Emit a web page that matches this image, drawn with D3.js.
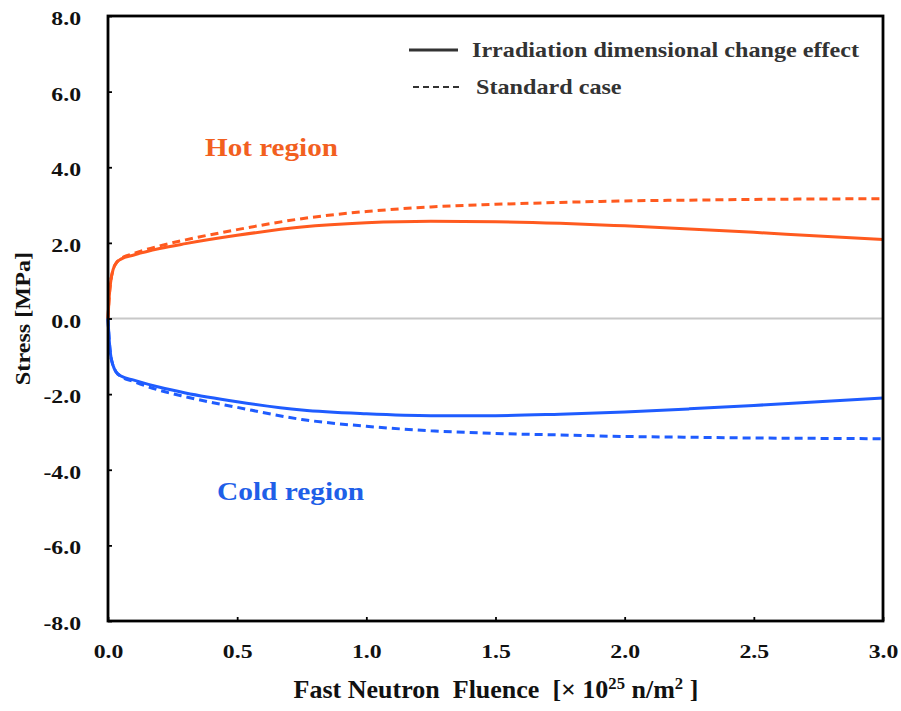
<!DOCTYPE html>
<html>
<head>
<meta charset="utf-8">
<script src="https://cdn.jsdelivr.net/npm/d3@7"></script>
<style>
  body { margin: 0; background: #fff; }
  text { font-family: "Liberation Serif", "Times New Roman", serif; font-weight: bold; white-space: pre; }
</style>
</head>
<body>
<svg id="chart" width="901" height="711"></svg>
<script>
// fluence [x10^25 n/m2]
const fluence = [0, 0.005, 0.01, 0.02, 0.03, 0.05, 0.1, 0.2, 0.3, 0.5, 0.75, 1.0, 1.25, 1.5, 1.75, 2.0, 2.25, 2.5, 2.75, 3.0];
// stress [MPa]
const hotIrr  = [0, 0.6, 0.95, 1.3, 1.45, 1.57, 1.68, 1.85, 1.98, 2.2, 2.42, 2.53, 2.57, 2.56, 2.52, 2.45, 2.37, 2.28, 2.18, 2.09];
const hotStd  = [0, 0.6, 0.95, 1.3, 1.45, 1.58, 1.72, 1.92, 2.08, 2.35, 2.64, 2.83, 2.95, 3.02, 3.07, 3.11, 3.13, 3.15, 3.16, 3.17];
const coldIrr = [0, -0.6, -0.95, -1.25, -1.4, -1.52, -1.63, -1.82, -1.97, -2.2, -2.42, -2.52, -2.57, -2.57, -2.53, -2.47, -2.39, -2.3, -2.2, -2.1];
const coldStd = [0, -0.6, -0.95, -1.25, -1.4, -1.53, -1.67, -1.9, -2.07, -2.35, -2.67, -2.85, -2.97, -3.04, -3.08, -3.12, -3.14, -3.16, -3.17, -3.18];

const xTicks = [0, 0.5, 1.0, 1.5, 2.0, 2.5, 3.0];
const yTicks = [-8, -6, -4, -2, 0, 2, 4, 6, 8];

const hot = "#ff5a1f", cold = "#1f5cff";

const svg = d3.select("#chart");
const mLeft = 108, mRight = 883, mTop = 16, mBottom = 621;

const x = d3.scaleLinear().domain([0, 3]).range([mLeft, mRight]);
const y = d3.scaleLinear().domain([-8, 8]).range([mBottom, mTop]);

// plain hyphen minus like the source
const fmt = d => d.toFixed(1);

// widen glyphs a bit, the source font is broader than Liberation Serif
function stretch(sel, k) {
  sel.each(function() {
    const w = this.getComputedTextLength();
    d3.select(this).attr("textLength", w * k).attr("lengthAdjust", "spacingAndGlyphs");
  });
}

// zero line
svg.append("line")
  .attr("x1", x(0)).attr("x2", x(3))
  .attr("y1", y(0)).attr("y2", y(0))
  .attr("stroke", "#c8c8c8").attr("stroke-width", 2);

// curves
const line = d3.line()
  .x((d, i) => x(fluence[i]))
  .y(d => y(d))
  .curve(d3.curveMonotoneX);

const series = [
  { v: hotStd, c: hot, dash: "8,5" },
  { v: coldStd, c: cold, dash: "8,5" },
  { v: hotIrr, c: hot, dash: null },
  { v: coldIrr, c: cold, dash: null }
];
svg.selectAll("path.curve")
  .data(series)
  .enter()
  .append("path")
  .attr("class", "curve")
  .attr("d", d => line(d.v))
  .attr("fill", "none")
  .attr("stroke", d => d.c)
  .attr("stroke-width", 3)
  .attr("stroke-dasharray", d => d.dash);

// axes
const xAxis = svg.append("g")
  .attr("transform", "translate(0," + mBottom + ")")
  .call(d3.axisBottom(x).tickValues(xTicks).tickSizeInner(-4).tickSizeOuter(0).tickPadding(14).tickFormat(fmt));
const yAxis = svg.append("g")
  .attr("transform", "translate(" + mLeft + ",0)")
  .call(d3.axisLeft(y).tickValues(yTicks).tickSizeInner(-4).tickSizeOuter(0).tickPadding(27).tickFormat(fmt));
[xAxis, yAxis].forEach(g => {
  g.select(".domain").remove();
  g.selectAll(".tick line").attr("stroke", "#000").attr("stroke-width", 1.8);
  g.selectAll(".tick text").attr("font-size", 19).attr("fill", "#111");
  stretch(g.selectAll(".tick text"), 1.25);
});
xAxis.selectAll(".tick text").attr("dy", "1.2em");
yAxis.selectAll(".tick text").attr("dy", "0.45em");

// frame
svg.append("rect")
  .attr("x", mLeft).attr("y", mTop)
  .attr("width", mRight - mLeft).attr("height", mBottom - mTop)
  .attr("fill", "none").attr("stroke", "#000").attr("stroke-width", 2.8);

// legend
svg.append("line").attr("x1", 409).attr("x2", 458).attr("y1", 50).attr("y2", 50)
  .attr("stroke", "#333").attr("stroke-width", 3);
svg.append("line").attr("x1", 413).attr("x2", 461).attr("y1", 87).attr("y2", 87)
  .attr("stroke", "#333").attr("stroke-width", 2).attr("stroke-dasharray", "6,4");
const leg1 = svg.append("text").attr("x", 472).attr("y", 57).attr("font-size", 21).attr("fill", "#333")
  .text("Irradiation dimensional change effect");
const leg2 = svg.append("text").attr("x", 476).attr("y", 94).attr("font-size", 21).attr("fill", "#333")
  .text("Standard case");
stretch(leg1, 1.15);
stretch(leg2, 1.15);

// region labels
const hotLab = svg.append("text").attr("x", 205).attr("y", 156).attr("font-size", 26).attr("fill", "#f2601f")
  .text("Hot region");
const coldLab = svg.append("text").attr("x", 217).attr("y", 500).attr("font-size", 26).attr("fill", "#1f5fe8")
  .text("Cold region");
stretch(hotLab, 1.12);
stretch(coldLab, 1.13);

// axis titles
const yt = svg.append("text")
  .attr("transform", "translate(30," + y(0) + ") rotate(-90)")
  .attr("text-anchor", "middle").attr("font-size", 22).attr("fill", "#111")
  .text("Stress [MPa]");
stretch(yt, 1.1);

const xt = svg.append("text").attr("x", 496).attr("y", 698)
  .attr("text-anchor", "middle").attr("font-size", 25).attr("fill", "#111");
xt.append("tspan").text("Fast Neutron  Fluence  [\u00d7 10");
xt.append("tspan").attr("font-size", 16).attr("dy", -9).text("25");
xt.append("tspan").attr("dy", 9).text(" n/m");
xt.append("tspan").attr("font-size", 16).attr("dy", -9).text("2");
xt.append("tspan").attr("dy", 9).text(" ]");
stretch(xt, 1.04);
</script>
</body>
</html>
